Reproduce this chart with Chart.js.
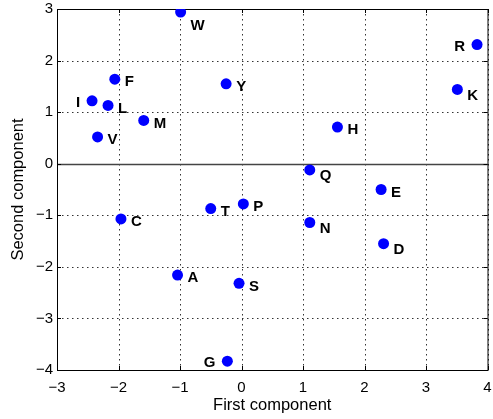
<!DOCTYPE html>
<html>
<head>
<meta charset="utf-8">
<script src="https://cdn.jsdelivr.net/npm/chart.js@4"></script>
<style>
  html, body { margin: 0; padding: 0; background: #fff; }
  #wrap { width: 493px; height: 419px; }
</style>
</head>
<body>
<div id="wrap"><canvas id="c" width="493" height="419"></canvas></div>
<script>
// amino-acid scores on the first two components
const names = ['A', 'C', 'D', 'E', 'F', 'G', 'H', 'I', 'K', 'L', 'M', 'N', 'P', 'Q', 'R', 'S', 'T', 'V', 'W', 'Y'];
const firstComp = [-1.04, -1.96, 2.31, 2.27, -2.06, -0.23, 1.56, -2.43, 3.51, -2.17, -1.59, 1.11, 0.03, 1.11, 3.83, -0.04, -0.50, -2.34, -0.99, -0.25];
const secondComp = [-2.16, -1.07, -1.55, -0.50, 1.64, -3.83, 0.71, 1.22, 1.44, 1.13, 0.84, -1.14, -0.78, -0.12, 2.31, -2.32, -0.87, 0.52, 2.94, 1.55];
const xTicks = [-3, -2, -1, 0, 1, 2, 3, 4];
const yTicks = [-4, -3, -2, -1, 0, 1, 2, 3];

// labels placed to the left of these points
const leftLabels = ['I', 'R', 'G'];

const minus = function (v) { return String(v).replace('-', '\u2212'); };

// dotted grid, box, inward ticks, zero line and the point letters (MATLAB look)
const matlabAxes = {
  id: 'matlabAxes',
  beforeDatasetsDraw(chart) {
    const { ctx, chartArea: a, scales } = chart;
    const sx = scales.x, sy = scales.y;
    ctx.save();
    // grid
    ctx.strokeStyle = '#333';
    ctx.lineWidth = 1;
    ctx.setLineDash([1.5, 3.5]);
    ctx.beginPath();
    xTicks.forEach(function (v) {
      const px = Math.round(sx.getPixelForValue(v)) + 0.5;
      ctx.moveTo(px, a.top); ctx.lineTo(px, a.bottom);
    });
    yTicks.forEach(function (v) {
      const py = Math.round(sy.getPixelForValue(v)) + 0.5;
      ctx.moveTo(a.left, py); ctx.lineTo(a.right, py);
    });
    ctx.stroke();
    ctx.setLineDash([]);
    // zero line
    const y0 = Math.round(sy.getPixelForValue(0)) + 0.5;
    ctx.beginPath();
    ctx.strokeStyle = '#444';
    ctx.lineWidth = 1.5;
    ctx.moveTo(a.left, y0);
    ctx.lineTo(a.right, y0);
    ctx.stroke();
    // box and inward ticks
    ctx.strokeStyle = '#000';
    ctx.lineWidth = 1;
    ctx.strokeRect(Math.round(a.left) + 0.5, Math.round(a.top) + 0.5, a.right - a.left, a.bottom - a.top);
    ctx.beginPath();
    xTicks.forEach(function (v) {
      const px = Math.round(sx.getPixelForValue(v)) + 0.5;
      ctx.moveTo(px, a.bottom); ctx.lineTo(px, a.bottom - 4);
      ctx.moveTo(px, a.top); ctx.lineTo(px, a.top + 4);
    });
    yTicks.forEach(function (v) {
      const py = Math.round(sy.getPixelForValue(v)) + 0.5;
      ctx.moveTo(a.left, py); ctx.lineTo(a.left + 4, py);
      ctx.moveTo(a.right, py); ctx.lineTo(a.right - 4, py);
    });
    ctx.stroke();
    ctx.restore();
  },
  afterDatasetsDraw(chart) {
    const { ctx } = chart;
    const meta = chart.getDatasetMeta(0);
    ctx.save();
    ctx.fillStyle = '#000';
    ctx.font = 'bold 15px "Liberation Sans", Arial, sans-serif';
    ctx.textBaseline = 'middle';
    meta.data.forEach(function (pt, i) {
      const n = names[i];
      let dy = 3;
      if (n === 'W') dy = 14;
      if (n === 'N' || n === 'D' || n === 'K' || n === 'Q') dy = 6;
      if (leftLabels.includes(n)) {
        ctx.textAlign = 'right';
        ctx.fillText(n, pt.x - 12, pt.y + dy - 1);
      } else {
        ctx.textAlign = 'left';
        ctx.fillText(n, pt.x + 10, pt.y + dy);
      }
    });
    ctx.restore();
  }
};

const fam = '"Liberation Sans", Arial, sans-serif';
const tickFont = { family: fam, size: 15 };
const titleFont = { family: fam, size: 16.5 };
const gridStyle = { display: false, drawTicks: false };

new Chart(document.getElementById('c'), {
  type: 'scatter',
  data: {
    datasets: [{
      data: names.map(function (n, i) { return { x: firstComp[i], y: secondComp[i] }; }),
      backgroundColor: '#0000ff',
      borderColor: '#0000ff',
      pointRadius: 5.5,
      pointBorderWidth: 0
    }]
  },
  options: {
    responsive: false,
    animation: false,
    layout: { padding: { top: 9, right: 0, bottom: 0, left: 0 } },
    plugins: { legend: { display: false }, tooltip: { enabled: false } },
    scales: {
      x: {
        type: 'linear',
        min: -3, max: 4,
        afterBuildTicks(s) { s.ticks = xTicks.map(function (v) { return { value: v }; }); },
        afterFit(s) { s.height = 49; s.paddingRight = 0; s.paddingLeft = 0; },
        grid: gridStyle,
        border: { display: false },
        ticks: { color: '#000', font: tickFont, padding: 9, maxRotation: 0, callback: minus },
        title: { display: true, text: 'First component', color: '#000', font: titleFont, padding: { top: 0, bottom: 4 } }
      },
      y: {
        type: 'linear',
        min: -4, max: 3,
        afterBuildTicks(s) { s.ticks = yTicks.map(function (v) { return { value: v }; }); },
        afterFit(s) { s.width = 57; s.paddingTop = 0; s.paddingBottom = 0; },
        grid: gridStyle,
        border: { display: false },
        ticks: { color: '#000', font: tickFont, padding: 4, callback: minus },
        title: { display: true, text: 'Second component', color: '#000', font: titleFont, padding: { top: 9, bottom: 0 } }
      }
    }
  },
  plugins: [matlabAxes]
});
</script>
</body>
</html>
